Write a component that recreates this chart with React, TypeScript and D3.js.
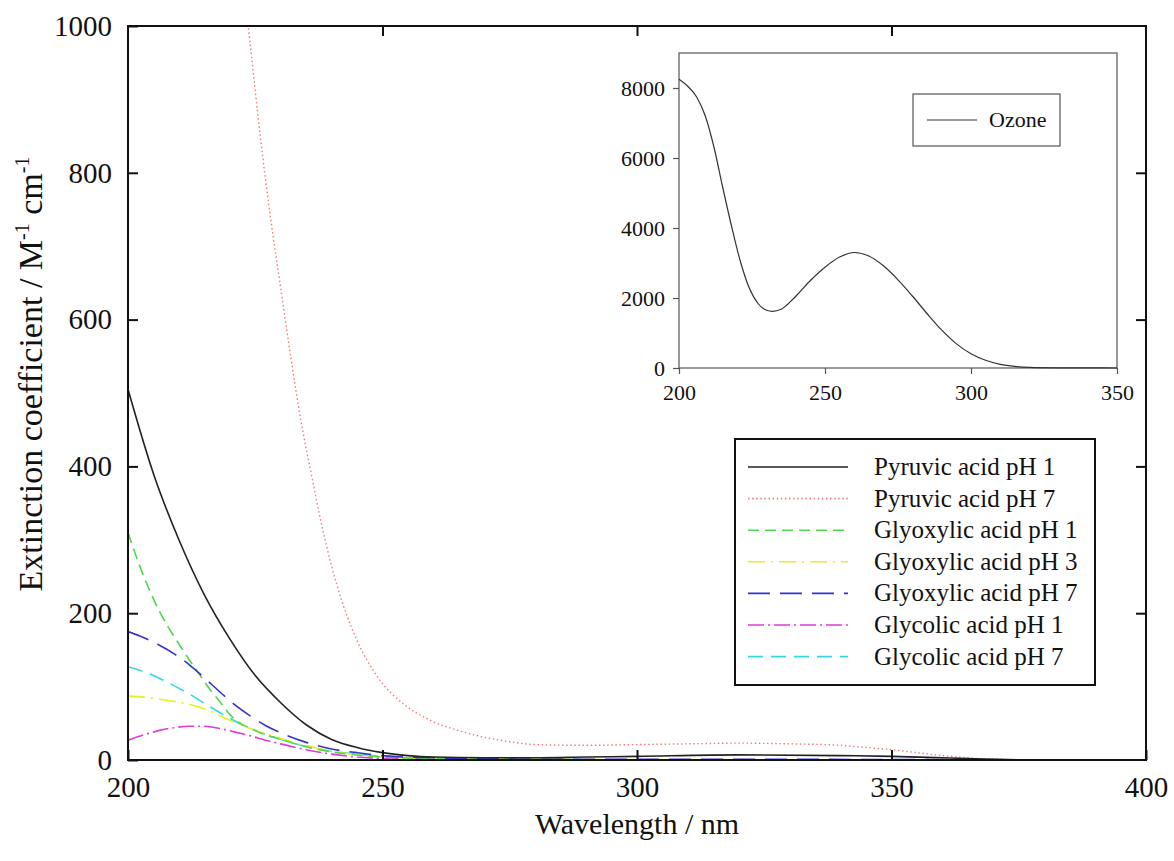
import React, { useEffect, useRef } from 'react';
import * as d3 from 'd3';

// Wavelength grids (nm) and extinction coefficients (M^-1 cm^-1)
const pyruvic1Wl = [200, 205, 210, 215, 220, 225, 230, 235, 240, 245, 250, 255, 260, 270, 280, 290, 300, 320, 340, 350, 360, 370, 380, 400];
const pyruvic1Val = [505, 390, 300, 225, 165, 115, 78, 48, 28, 17, 10, 6, 4, 3, 3, 4, 5, 7, 6, 5, 3, 1, 0, 0];

const pyruvic7Wl = [220, 222, 224, 226, 228, 230, 232, 234, 236, 238, 240, 242, 244, 246, 248, 250, 252, 254, 256, 258, 260, 265, 270, 275, 280, 290, 300, 310, 320, 330, 340, 345, 350, 355, 360, 365, 370, 380, 400];
const pyruvic7Val = [1230, 1100, 976, 849, 739, 643, 548, 461, 390, 322, 264, 217, 179, 148, 124, 104, 89, 77, 67, 59, 52, 40, 31, 25, 21, 20, 21, 22, 23, 22, 20, 17, 14, 10, 6, 3, 1, 0, 0];

const glyoxylic1Wl = [200, 202, 204, 206, 208, 210, 212, 214, 216, 218, 220, 225, 230, 235, 240, 245, 250, 260, 280, 300, 400];
const glyoxylic1Val = [310, 270, 235, 205, 180, 158, 137, 117, 97, 80, 62, 40, 28, 18, 11, 7, 4, 2, 1, 0, 0];

const glyoxylic3Wl = [200, 204, 208, 212, 216, 220, 224, 228, 232, 236, 240, 245, 250, 260, 280, 400];
const glyoxylic3Val = [87, 85, 81, 76, 67, 54, 43, 34, 25, 18, 12, 7, 4, 2, 1, 0];

const glyoxylic7Wl = [200, 203, 206, 209, 212, 215, 218, 221, 224, 227, 230, 235, 240, 245, 250, 260, 280, 300, 400];
const glyoxylic7Val = [175, 167, 157, 145, 130, 112, 93, 75, 60, 47, 37, 24, 15, 10, 6, 3, 1, 1, 0];

const glycolic1Wl = [200, 203, 206, 209, 212, 215, 218, 221, 224, 227, 230, 235, 240, 245, 250, 260, 280, 400];
const glycolic1Val = [27, 34, 40, 44, 46, 46, 43, 38, 33, 27, 22, 14, 8, 4, 2, 1, 0, 0];

const glycolic7Wl = [200, 204, 208, 212, 216, 220, 224, 228, 232, 236, 240, 245, 250, 260, 280, 300, 400];
const glycolic7Val = [127, 118, 105, 90, 73, 57, 43, 33, 24, 17, 12, 8, 5, 2, 1, 0, 0];

const ozoneWl = [200, 203, 206, 209, 212, 215, 218, 221, 224, 227, 230, 232, 235, 240, 245, 250, 255, 260, 265, 270, 275, 280, 285, 290, 295, 300, 305, 310, 315, 320, 330, 340, 350];
const ozoneVal = [8250, 8050, 7750, 7200, 6300, 5150, 4050, 3050, 2300, 1850, 1650, 1620, 1680, 2050, 2500, 2880, 3170, 3300, 3200, 2920, 2520, 2050, 1550, 1080, 690, 410, 220, 105, 45, 18, 5, 2, 0];

const seriesNames = [
  'Pyruvic acid pH 1',
  'Pyruvic acid pH 7',
  'Glyoxylic acid pH 1',
  'Glyoxylic acid pH 3',
  'Glyoxylic acid pH 7',
  'Glycolic acid pH 1',
  'Glycolic acid pH 7',
];
const seriesColors = ['#222222', '#f07c7c', '#4cd94c', '#eded1a', '#3434cc', '#dd3cdd', '#33d8e0'];
const seriesDashes = ['none', '1.5,2.6', '11,6', '17,6,2,6', '22,10', '16,4,2,4', '15,8'];

const xTicks = [200, 250, 300, 350, 400];
const yTicks = [0, 200, 400, 600, 800, 1000];
const insetXTicks = [200, 250, 300, 350];
const insetYTicks = [0, 2000, 4000, 6000, 8000];

const FONT = '"Liberation Serif", "Times New Roman", Times, serif';

export default function App() {
  const ref = useRef<SVGSVGElement>(null);

  useEffect(() => {
    const svg = d3.select(ref.current);
    svg.selectAll('*').remove();

    const series = [
      [pyruvic1Wl, pyruvic1Val],
      [pyruvic7Wl, pyruvic7Val],
      [glyoxylic1Wl, glyoxylic1Val],
      [glyoxylic3Wl, glyoxylic3Val],
      [glyoxylic7Wl, glyoxylic7Val],
      [glycolic1Wl, glycolic1Val],
      [glycolic7Wl, glycolic7Val],
    ];

    // Main plot area
    const left = 128, right = 1146, top = 26, bottom = 760;
    const x = d3.scaleLinear().domain([200, 400]).range([left, right]);
    const y = d3.scaleLinear().domain([0, 1000]).range([bottom, top]);

    svg.append('defs').append('clipPath').attr('id', 'mainClip')
      .append('rect')
      .attr('x', left).attr('y', top)
      .attr('width', right - left).attr('height', bottom - top);

    const line = d3.line<[number, number]>()
      .x(d => x(d[0]))
      .y(d => y(d[1]))
      .curve(d3.curveMonotoneX);

    const plot = svg.append('g').attr('clip-path', 'url(#mainClip)');
    // black line drawn last so it sits on top
    const order = [1, 6, 5, 3, 2, 4, 0];
    order.forEach(i => {
      const [wl, val] = series[i];
      const pts = wl.map((w, j) => [w, val[j]] as [number, number]);
      plot.append('path')
        .attr('d', line(pts))
        .attr('fill', 'none')
        .attr('stroke', seriesColors[i])
        .attr('stroke-width', i === 1 ? 1.4 : 1.6)
        .attr('stroke-dasharray', seriesDashes[i]);
    });

    // Axes with inward ticks on all four sides
    const styleAxis = (g, size) => {
      g.select('.domain').remove();
      g.selectAll('line').attr('stroke', '#111').attr('stroke-width', 2);
      g.selectAll('text')
        .attr('font-family', FONT)
        .attr('font-size', size)
        .attr('fill', '#111');
    };

    const gLeft = svg.append('g').attr('transform', `translate(${left},0)`)
      .call(d3.axisLeft(y).tickValues(yTicks).tickSizeInner(-10).tickSizeOuter(0).tickPadding(16).tickFormat(d3.format('d')));
    styleAxis(gLeft, 29);

    const gRight = svg.append('g').attr('transform', `translate(${right},0)`)
      .call(d3.axisRight(y).tickValues(yTicks.slice(1, -1)).tickSizeInner(-10).tickSizeOuter(0).tickFormat(() => ''));
    styleAxis(gRight, 29);

    const gBottom = svg.append('g').attr('transform', `translate(0,${bottom})`)
      .call(d3.axisBottom(x).tickValues(xTicks).tickSizeInner(-10).tickSizeOuter(0).tickPadding(16).tickFormat(d3.format('d')));
    styleAxis(gBottom, 29);

    const gTop = svg.append('g').attr('transform', `translate(0,${top})`)
      .call(d3.axisTop(x).tickValues(xTicks.slice(1, -1)).tickSizeInner(-10).tickSizeOuter(0).tickFormat(() => ''));
    styleAxis(gTop, 29);

    svg.append('rect')
      .attr('x', left).attr('y', top)
      .attr('width', right - left).attr('height', bottom - top)
      .attr('fill', 'none').attr('stroke', '#111').attr('stroke-width', 2);

    // Axis titles
    svg.append('text')
      .attr('x', (left + right) / 2).attr('y', 834)
      .attr('text-anchor', 'middle')
      .attr('font-family', FONT).attr('font-size', 30).attr('fill', '#111')
      .text('Wavelength / nm');

    const yTitle = svg.append('text')
      .attr('transform', 'translate(42,374) rotate(-90)')
      .attr('text-anchor', 'middle')
      .attr('font-family', FONT).attr('font-size', 34).attr('fill', '#111');
    yTitle.append('tspan').text('Extinction coefficient / M');
    yTitle.append('tspan').attr('dy', -13).attr('font-size', 20).text('-1');
    yTitle.append('tspan').attr('dy', 13).text(' cm');
    yTitle.append('tspan').attr('dy', -13).attr('font-size', 20).text('-1');

    // Legend
    const legend = svg.append('g');
    legend.append('rect')
      .attr('x', 735).attr('y', 439).attr('width', 360).attr('height', 246)
      .attr('fill', 'white').attr('stroke', '#111').attr('stroke-width', 2);
    seriesNames.forEach((name, i) => {
      const ry = 467 + i * 31.6;
      legend.append('line')
        .attr('x1', 748).attr('x2', 848).attr('y1', ry).attr('y2', ry)
        .attr('stroke', seriesColors[i])
        .attr('stroke-width', 1.6)
        .attr('stroke-dasharray', seriesDashes[i]);
      legend.append('text')
        .attr('x', 874).attr('y', ry + 8)
        .attr('font-family', FONT).attr('font-size', 25).attr('fill', '#111')
        .text(name);
    });

    // Inset: ozone
    const iLeft = 679, iRight = 1117, iTop = 53, iBottom = 368;
    const ix = d3.scaleLinear().domain([200, 350]).range([iLeft, iRight]);
    const iy = d3.scaleLinear().domain([0, 9000]).range([iBottom, iTop]);

    svg.append('rect')
      .attr('x', iLeft).attr('y', iTop)
      .attr('width', iRight - iLeft).attr('height', iBottom - iTop)
      .attr('fill', 'white').attr('stroke', '#555').attr('stroke-width', 1.2);

    const iLine = d3.line<[number, number]>()
      .x(d => ix(d[0]))
      .y(d => iy(d[1]))
      .curve(d3.curveMonotoneX);
    svg.append('path')
      .attr('d', iLine(ozoneWl.map((w, j) => [w, ozoneVal[j]] as [number, number])))
      .attr('fill', 'none').attr('stroke', '#333').attr('stroke-width', 1.2);

    const styleInset = g => {
      g.select('.domain').remove();
      g.selectAll('line').attr('stroke', '#555').attr('stroke-width', 1.2);
      g.selectAll('text')
        .attr('font-family', FONT).attr('font-size', 22).attr('fill', '#111');
    };
    const giLeft = svg.append('g').attr('transform', `translate(${iLeft},0)`)
      .call(d3.axisLeft(iy).tickValues(insetYTicks).tickSize(6).tickPadding(8).tickFormat(d3.format('d')));
    styleInset(giLeft);
    const giBottom = svg.append('g').attr('transform', `translate(0,${iBottom})`)
      .call(d3.axisBottom(ix).tickValues(insetXTicks).tickSize(6).tickPadding(10).tickFormat(d3.format('d')));
    styleInset(giBottom);

    svg.append('rect')
      .attr('x', 913).attr('y', 94).attr('width', 147).attr('height', 52)
      .attr('fill', 'white').attr('stroke', '#555').attr('stroke-width', 1.2);
    svg.append('line')
      .attr('x1', 927).attr('x2', 977).attr('y1', 120).attr('y2', 120)
      .attr('stroke', '#333').attr('stroke-width', 1.2);
    svg.append('text')
      .attr('x', 989).attr('y', 127)
      .attr('font-family', FONT).attr('font-size', 22).attr('fill', '#111')
      .text('Ozone');
  }, []);

  return (
    <svg
      ref={ref}
      width={1174}
      height={861}
      style={{ position: 'absolute', left: 0, top: 0, background: 'white' }}
    />
  );
}
